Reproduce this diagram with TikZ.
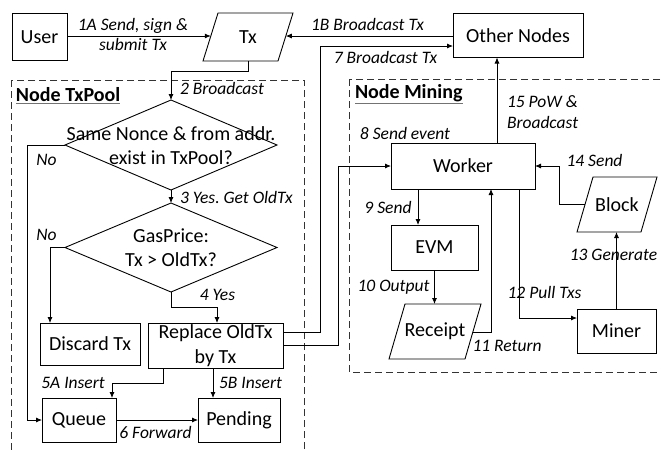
\documentclass[tikz,border=0pt]{standalone}
\usepackage{fontspec}
\setmainfont{Carlito}
\usetikzlibrary{shapes.geometric,arrows.meta,calc}
\frenchspacing
\newcommand\mainfs{\fontsize{20}{24.5}\selectfont}
\newcommand\lblfs{\fontsize{17.5}{20.5}\selectfont\itshape}
\begin{document}
\begin{tikzpicture}[x=1pt,y=-1pt,
  every node/.style={inner sep=0pt, outer sep=0pt},
  box/.style={draw, rectangle, line width=0.9pt, font=\mainfs, align=center},
  dia/.style={draw, diamond, line width=0.9pt},
  txt/.style={font=\mainfs, align=center},
  lbl/.style={font=\lblfs, align=center},
  pline/.style={line width=0.9pt, line join=miter},
  arr/.style={-{Latex[length=6pt,width=5pt]}, line width=0.8pt},
  frame/.style={line width=0.9pt, dash pattern=on 7pt off 4pt, draw=black!80},
  ttl/.style={font=\fontsize{20}{24}\selectfont\bfseries, anchor=west},
  ul/.style={draw=black!55, line width=1.4pt}
]
\useasboundingbox (0,0) rectangle (661,451);
\clip (0,0) rectangle (661,451);

% frames
\draw[frame] (11,80) rectangle (304,470);
\draw[frame] (349,79) rectangle (690,372);
\node[ttl] (ttx) at (16,95) {Node TxPool};
\draw[ul] ([yshift=-1.5pt]ttx.south west) -- ([yshift=-1.5pt]ttx.south east);
\node[ttl] (tmin) at (355,93) {Node Mining};
\draw[ul] ([yshift=-1.5pt]tmin.south west) -- ([yshift=-1.5pt]tmin.south east);

% top row
\node[box, minimum width=55pt, minimum height=47pt] (user) at (39.5,37) {User};
\node[txt] (tx) at (248,37) {Tx};
\draw[pline] ($(tx.center)+(-45,24)$) -- ($(tx.center)+(-30,-24)$) -- ($(tx.center)+(45,-24)$) -- ($(tx.center)+(30,24)$) -- cycle;
\node[box, minimum width=130pt, minimum height=44pt] (other) at (518,35.5) {Other Nodes};

% txpool
\node[dia, minimum width=212pt, minimum height=90pt] (d1) at (171,145) {};
\node[txt] (d1t) at (171,145.5) {Same Nonce \& from addr.\\exist in TxPool?};
\node[dia, minimum width=212pt, minimum height=89pt] (d2) at (171,247.5) {};
\node[txt] (d2t) at (171,247.5) {GasPrice:\\Tx > OldTx?};
\node[box, minimum width=100pt, minimum height=42pt] (discard) at (90,344) {Discard Tx};
\node[box, minimum width=135pt, minimum height=45pt] (replace) at (215.5,345.5) {Replace OldTx\\by Tx};
\node[box, minimum width=74pt, minimum height=44pt] (queue) at (79,420) {Queue};
\node[box, minimum width=82pt, minimum height=44pt] (pending) at (239,420) {Pending};

% mining
\node[box, minimum width=144pt, minimum height=46pt] (worker) at (463,166) {Worker};
\node[box, minimum width=87pt, minimum height=45pt] (evm) at (434.5,247.5) {EVM};
\node[txt] (receipt) at (435,331.5) {Receipt};
\draw[pline] ($(receipt.center)+(-46,27.5)$) -- ($(receipt.center)+(-30,-27.5)$) -- ($(receipt.center)+(46,-27.5)$) -- ($(receipt.center)+(30,27.5)$) -- cycle;
\node[box, minimum width=79pt, minimum height=44pt] (miner) at (616.5,331) {Miner};
\node[txt] (block) at (617,204.5) {Block};
\draw[pline] ($(block.center)+(-40,27.5)$) -- ($(block.center)+(-24,-27.5)$) -- ($(block.center)+(40,-27.5)$) -- ($(block.center)+(24,27.5)$) -- cycle;

% 1A, 1B
\coordinate (txL) at ($(tx.center)+(-37.2,-1)$);
\coordinate (txR) at ($(tx.center)+(37.8,-1)$);
\draw[arr] (user.east |- txL) -- (txL);
\draw[arr] (other.west |- txR) -- (txR);
\node[lbl] at (133,34.5) {1A Send, sign \&\\submit Tx};
\node[lbl] at (367.5,24) {1B Broadcast Tx};

% 2
\coordinate (txB) at ($(tx.center)+(0,24)$);
\draw[arr] (txB) -- ++(0,10) -| (d1.north);
\node[lbl, anchor=west] at (180,88) {2 Broadcast};

% No 1
\draw[arr] (d1.west) -- ++(-38,0) |- (queue.west);
\node[lbl] at (46.5,160) {No};

% 3
\draw[arr] (d1.south) -- (d2.north);
\node[lbl, anchor=west] at (180,197) {3 Yes. Get OldTx};

% No 2
\coordinate (n2) at (50,247.5);
\draw[arr] (d2.west) -- (n2) -- (n2 |- discard.north);
\node[lbl] at (46.5,235) {No};

% 4
\draw[arr] (d2.south) -- ++(0,15) -| ($(replace.north)+(1.5,0)$);
\node[lbl] at (217.5,295) {4 Yes};

% 5A 5B
\coordinate (r5a) at ($(replace.south)+(-52.5,0)$);
\draw[arr] (r5a) -- ++(0,15) -| ($(queue.north)+(33,0)$);
\node[lbl] at (73,383) {5A Insert};
\coordinate (r5b) at ($(replace.south)+(-2.5,0)$);
\draw[arr] (r5b) -- (r5b |- pending.north);
\node[lbl] at (250.5,383) {5B Insert};

% 6
\draw[arr] (queue.east) -- (pending.west);
\node[lbl] at (155.5,432) {6 Forward};

% 7
\coordinate (r7) at ($(replace.east)+(0,-13.5)$);
\coordinate (o7) at ($(other.west)+(0,10.5)$);
\coordinate (k7) at (320,0);
\draw[arr] (r7) -- (r7 -| k7) -- (k7 |- o7) -- (o7);
\node[lbl] at (385.5,57) {7 Broadcast Tx};

% 8
\coordinate (r8) at ($(replace.east)+(0,-0.5)$);
\coordinate (k8) at (338,0);
\draw[arr] (r8) -- (r8 -| k8) -- (k8 |- worker.west) -- (worker.west);
\node[lbl] at (405,133) {8 Send event};

% 9
\coordinate (w9) at ($(worker.south)+(-45,0)$);
\draw[arr] (w9) -- (w9 |- evm.north);
\node[lbl] at (388,207) {9 Send};

% 10
\draw[arr] (evm.south) -- ($(receipt.center)+(-0.5,-27.5)$);
\node[lbl] at (393.5,287) {10 Output};

% 11
\coordinate (r11) at ($(receipt.center)+(38,0.5)$);
\coordinate (k11) at (491,0);
\draw[arr] (r11) -- (r11 -| k11) -- (k11 |- worker.south);
\node[lbl] at (507,346) {11 Return};

% 12
\coordinate (w12) at ($(worker.south)+(56,0)$);
\draw[arr] (w12) |- ($(miner.west)+(0,-13)$);
\node[lbl] at (544.5,292) {12 Pull Txs};

% 13
\draw[arr] (miner.north) -- ($(block.center)+(-0.5,27.5)$);
\node[lbl] at (613.5,255) {13 Generate};

% 14
\coordinate (b14) at ($(block.center)+(-32,-0.5)$);
\coordinate (k14) at (559,0);
\draw[arr] (b14) -- (b14 -| k14) -- (k14 |- worker.east) -- (worker.east);
\node[lbl] at (594.5,160) {14 Send};

% 15
\coordinate (w15) at ($(worker.north)+(34,0)$);
\draw[arr] (w15) -- (w15 |- other.south);
\node[lbl, anchor=west, align=left] at (507,112) {15 PoW \&\\Broadcast};
\end{tikzpicture}
\end{document}
